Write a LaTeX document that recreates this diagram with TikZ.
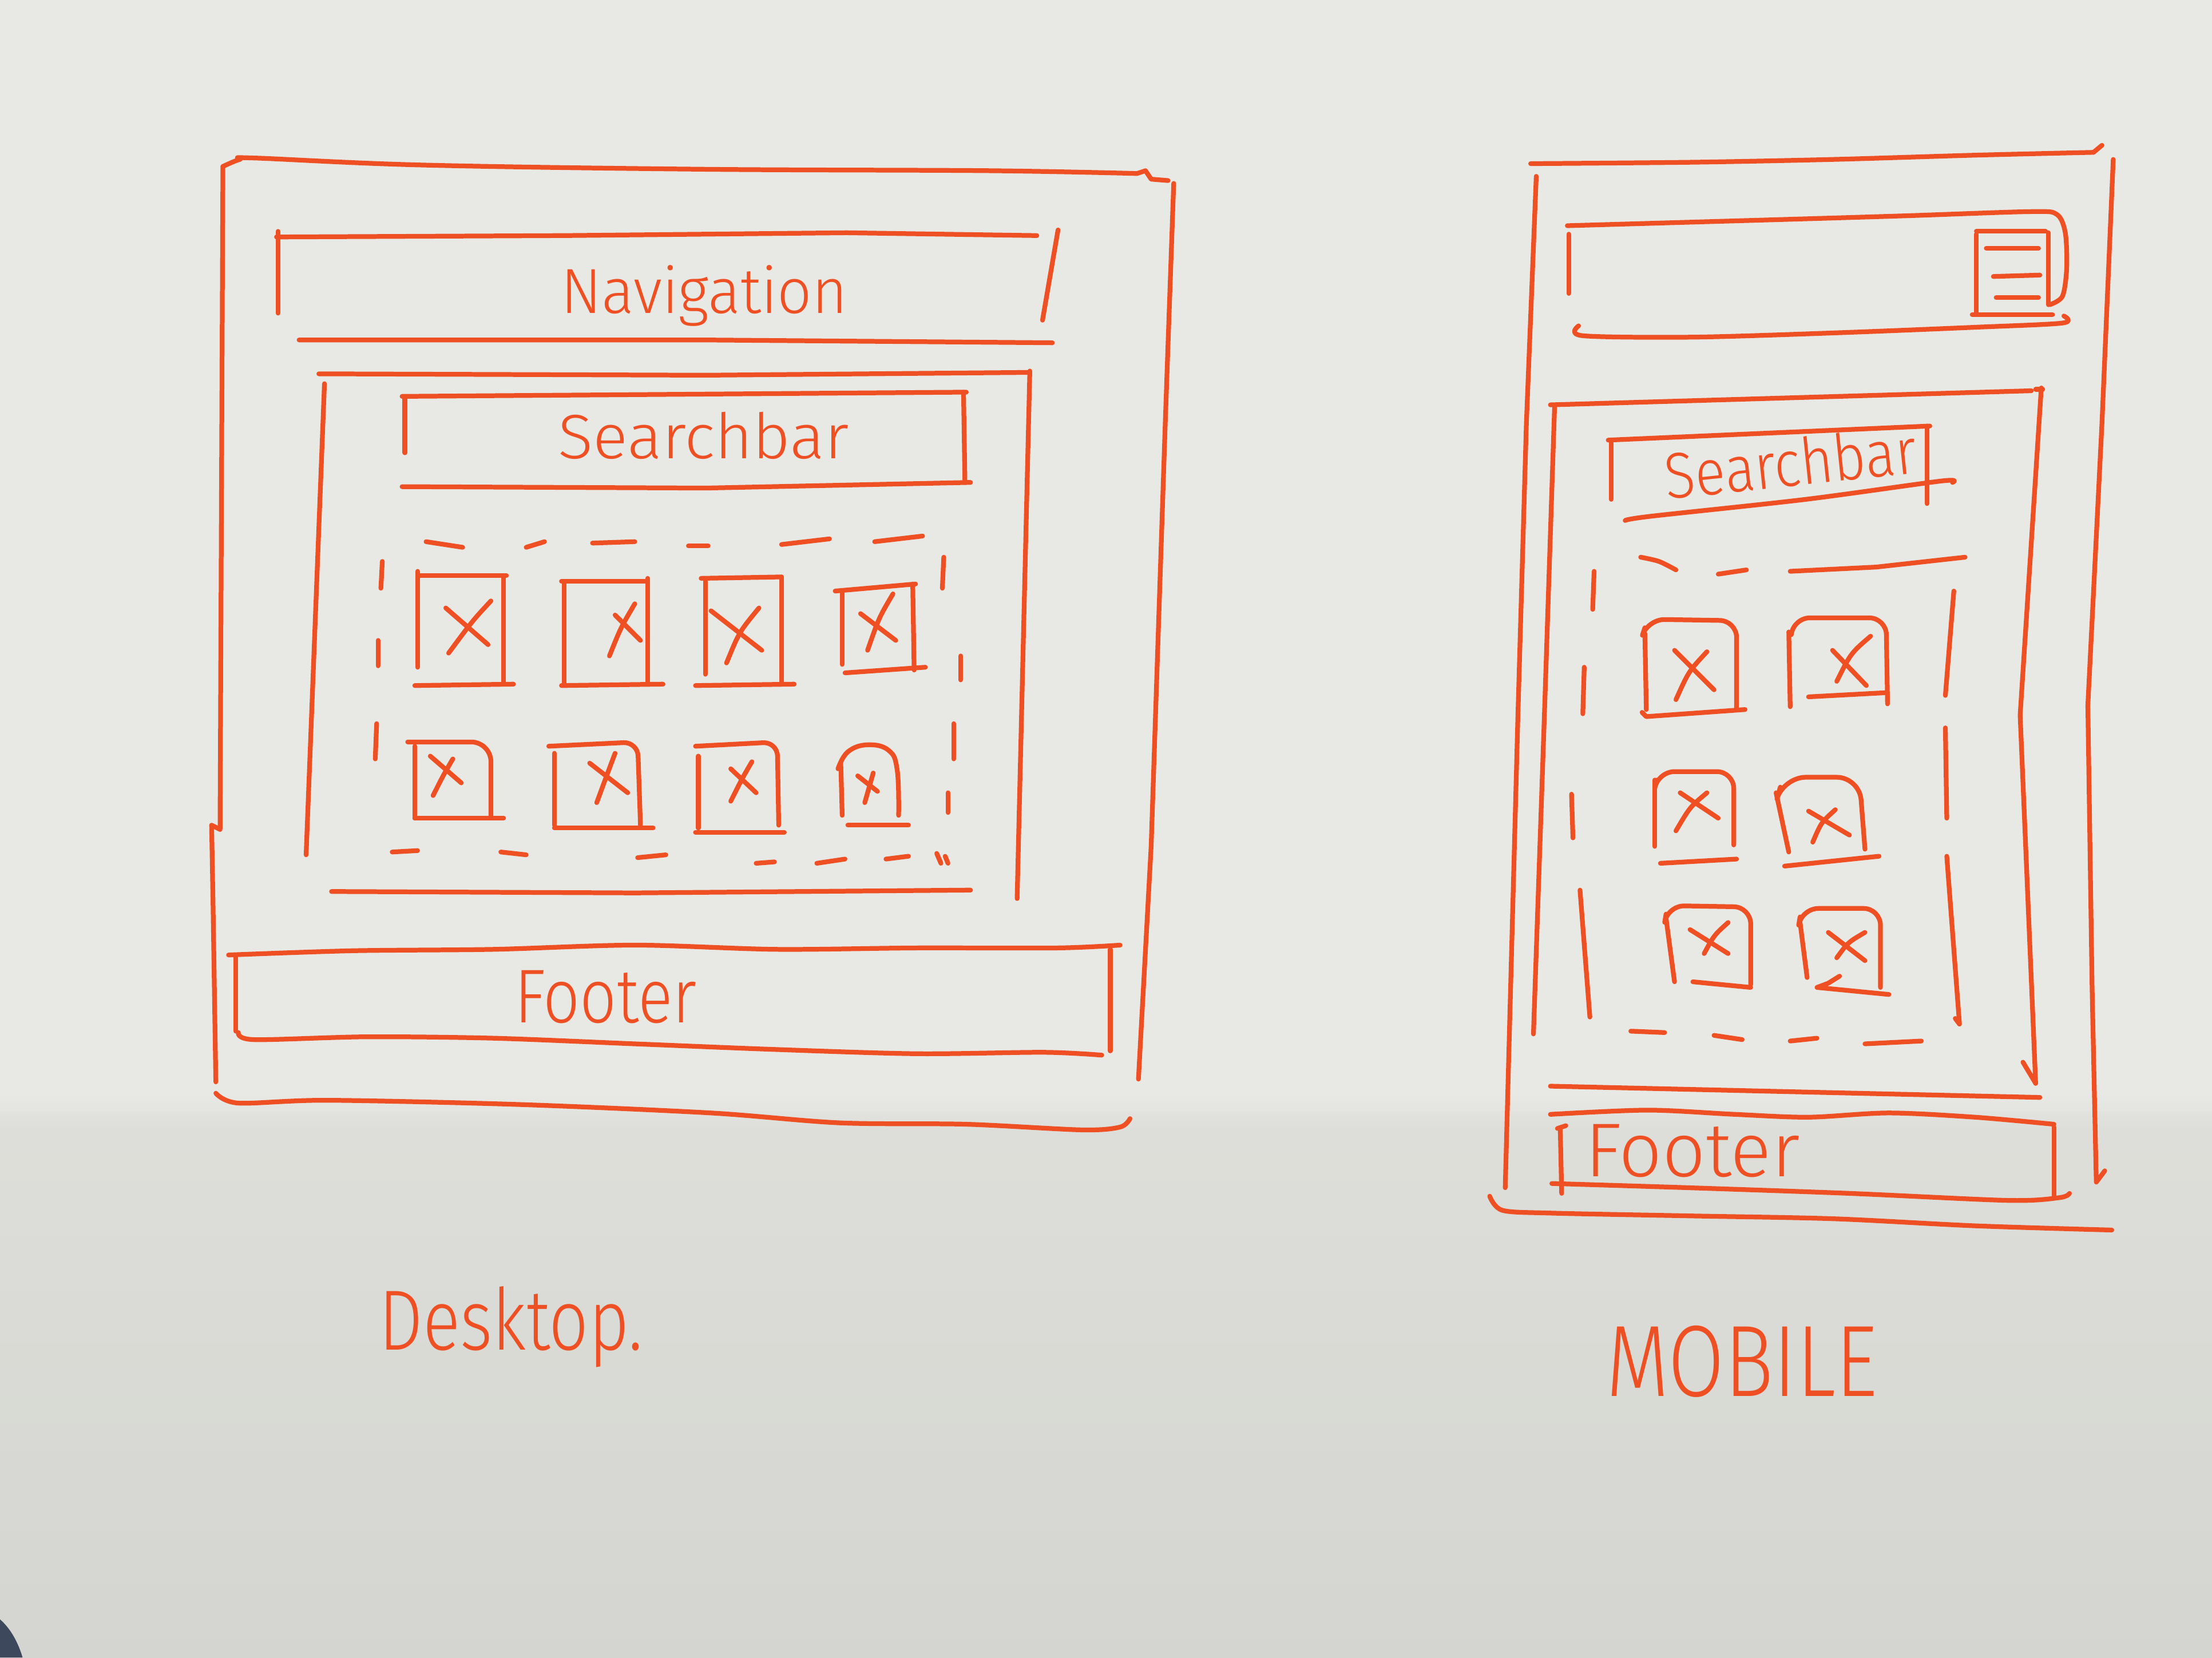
\documentclass[tikz,border=0pt]{standalone}
\usepackage{fontspec}
\usepackage{graphicx}
\newfontfamily\hand[FakeStretch=0.8,UprightFont={* Light}]{Fira Sans}
\definecolor{ink}{RGB}{238,80,36}
\definecolor{paperhi}{RGB}{232,232,228}
\definecolor{paperlo}{RGB}{221,222,217}
\definecolor{paperdeep}{RGB}{212,213,208}
\definecolor{deskedge}{RGB}{62,72,92}
\begin{document}
\begin{tikzpicture}[x=0.01cm,y=-0.01cm,
  pen/.style={draw=ink,line width=0.95pt,line cap=round,line join=round},
  handtext/.style={inner sep=0,anchor=base west,text=ink}]
\useasboundingbox (0,0) rectangle (1568,1175);
% paper, with the softer shadow over the lower part
\fill[paperhi] (0,0) rectangle (1568,800);
\foreach \i [evaluate=\i as \t using \i*10] in {0,...,10}
  \fill[paperlo!\t!paperhi] (0,{775+\i*2.5}) rectangle (1568,{778+\i*2.5});
\foreach \i [evaluate=\i as \t using \i*5] in {0,...,19}
  \fill[paperdeep!\t!paperlo] (0,{800+\i*19}) rectangle (1568,{820+\i*19});
\fill[deskedge] (0,1148) .. controls (8,1155) and (13,1165) .. (16,1175) -- (0,1175) -- cycle;

% ================= DESKTOP =================
% outer frame
\draw[pen] plot[smooth,tension=0.6] coordinates {(158,118) (170,113) (180,112) (300,117) (500,120) (700,121) (806,123)};
\draw[pen] (806,123) -- (812,121) -- (816,127) -- (828,128);
\draw[pen] (158,118) -- (157,350) -- (156,588) -- (150,585) -- (151,640) -- (153,767);
\draw[pen] plot[smooth,tension=0.5] coordinates {(153,775) (169,782) (232,780) (368,783) (504,789) (595,796) (685,797) (767,801) (794,799) (801,793)};
\draw[pen] (832,130) -- (826,300) -- (816,600) -- (807,765);

% navigation bar
\draw[pen] (196,168) -- (400,167) -- (600,165) -- (735,167);
\draw[pen] (197,164) -- (197,222);
\draw[pen] (750,163) -- (739,227);
\draw[pen] (212,241) -- (500,241) -- (746,243);
\node[handtext] (navtxt) at (397,222) {\resizebox{2.03cm}{0.34cm}{\hand Navigation}};

% content area
\draw[pen] (226,265) -- (500,266) -- (730,264);
\draw[pen] (230,272) -- (217,606);
\draw[pen] (730,263) -- (721,637);
\draw[pen] (235,632) -- (450,633) -- (688,631);

% search bar
\draw[pen] (285,281) -- (685,278);
\draw[pen] (287,283) -- (287,321);
\draw[pen] (683,278) -- (684,342);
\draw[pen] (285,345) -- (500,346) -- (688,342);
\node[handtext] (searchtxt) at (395,325) {\resizebox{2.06cm}{0.33cm}{\hand Searchbar}};

% dashed grid container
\draw[pen] (302,384) -- (328,388);
\draw[pen] (373,388) -- (386,384);
\draw[pen] (420,385) -- (450,384);
\draw[pen] (488,387) -- (502,387);
\draw[pen] (554,386) -- (588,382);
\draw[pen] (620,384) -- (654,380);
\draw[pen] (271,398) -- (270,417);
\draw[pen] (268,454) -- (268,472);
\draw[pen] (267,513) -- (266,538);
\draw[pen] (669,395) -- (668,417);
\draw[pen] (681,465) -- (681,482);
\draw[pen] (676,513) -- (676,538);
\draw[pen] (672,562) -- (672,576);
\draw[pen] (278,604) -- (296,603);
\draw[pen] (355,604) -- (373,606);
\draw[pen] (452,608) -- (472,606);
\draw[pen] (536,612) -- (549,611);
\draw[pen] (579,612) -- (599,609);
\draw[pen] (628,609) -- (644,607);
\draw[pen] (664,605) -- (667,612);
\draw[pen] (670,607) -- (672,612);

% image placeholders, row 1
\draw[pen] (296,405) -- (296,473);
\draw[pen] (298,408) -- (359,408);
\draw[pen] (357,408) -- (357,485);
\draw[pen] (294,486) -- (364,485);
\draw[pen] (316,431) -- (346,457);
\draw[pen] (348,426) .. controls (335,440) .. (318,463);

\draw[pen] (400,414) -- (400,484);
\draw[pen] (398,412) -- (459,412);
\draw[pen] (459,410) -- (459,484);
\draw[pen] (398,486) -- (470,485);
\draw[pen] (436,436) -- (454,454);
\draw[pen] (450,428) .. controls (440,445) .. (432,465);

\draw[pen] (500,412) -- (500,478);
\draw[pen] (497,410) -- (554,409);
\draw[pen] (554,409) -- (554,484);
\draw[pen] (493,486) -- (563,485);
\draw[pen] (504,433) -- (540,461);
\draw[pen] (538,431) .. controls (524,448) .. (515,470);

\draw[pen] (597,419) -- (597,471);
\draw[pen] (592,419) -- (649,414);
\draw[pen] (647,414) -- (648,475);
\draw[pen] (599,477) -- (656,473);
\draw[pen] (610,435) -- (635,454);
\draw[pen] (633,421) .. controls (623,438) .. (615,461);

% image placeholders, row 2
\draw[pen] (294,529) -- (294,580);
\draw[pen,rounded corners=0.14cm] (289,526) -- (348,526) -- (348,580);
\draw[pen] (294,580) -- (357,580);
\draw[pen] (305,536) -- (327,555);
\draw[pen] (321,538) .. controls (314,550) .. (307,564);

\draw[pen] (393,534) -- (393,585);
\draw[pen,rounded corners=0.1cm] (389,529) -- (452,526) -- (454,585);
\draw[pen] (393,587) -- (463,587);
\draw[pen] (418,541) -- (445,562);
\draw[pen] (436,534) .. controls (430,550) .. (423,569);

\draw[pen] (495,536) -- (495,587);
\draw[pen,rounded corners=0.1cm] (493,529) -- (551,526) -- (552,585);
\draw[pen] (493,590) -- (556,590);
\draw[pen] (518,545) -- (536,562);
\draw[pen] (533,540) .. controls (526,552) .. (518,568);

\draw[pen] (596,541) -- (597,578);
\draw[pen] plot[smooth,tension=0.7] coordinates {(594,545) (601,533) (615,528) (630,532) (636,546) (637,578)};
\draw[pen] (601,585) -- (644,585);
\draw[pen] (608,550) -- (622,561);
\draw[pen] (619,548) -- (613,569);

% footer
\draw[pen] plot[smooth,tension=0.5] coordinates {(162,677) (250,674) (350,673) (450,670) (550,673) (650,672) (750,672) (794,670)};
\draw[pen] (167,678) -- (167,731);
\draw[pen] (787,673) -- (787,745);
\draw[pen] plot[smooth,tension=0.5] coordinates {(169,732) (180,737) (260,735) (350,736) (450,740) (550,744) (650,747) (740,746) (781,748)};
\node[handtext] (foottxt) at (364,725) {\resizebox{1.29cm}{0.37cm}{\hand Footer}};

\node[handtext] (desklabel) at (268,957) {\resizebox{1.87cm}{0.45cm}{\hand Desktop.}};

% ================= MOBILE =================
% outer frame
\draw[pen] plot[smooth,tension=0.5] coordinates {(1085,116) (1200,115) (1300,113) (1400,110) (1484,108)};
\draw[pen] (1484,108) -- (1490,103);
\draw[pen] (1089,125) -- (1082,300) -- (1076,507) -- (1067,842);
\draw[pen] plot[smooth,tension=0.5] coordinates {(1056,848) (1065,858) (1100,860) (1200,862) (1300,864) (1400,869) (1497,872)};
\draw[pen] (1498,113) -- (1490,300) -- (1480,500) -- (1483,700) -- (1486,838) -- (1492,830);

% navigation bar with menu icon
\draw[pen] plot[smooth,tension=0.5] coordinates {(1111,160) (1250,156) (1350,153) (1440,150) (1458,152) (1464,165) (1465,190) (1462,210) (1453,216)};
\draw[pen] (1112,166) -- (1112,208);
\draw[pen] plot[smooth,tension=0.5] coordinates {(1119,231) (1122,238) (1200,239) (1300,236) (1400,232) (1462,229) (1463,224)};
\draw[pen] (1401,166) -- (1401,223);
\draw[pen] (1401,164) -- (1450,164);
\draw[pen] (1452,165) -- (1452,216);
\draw[pen] (1398,223) -- (1455,223);
\draw[pen] (1408,176) -- (1445,176);
\draw[pen] (1413,196) -- (1446,195);
\draw[pen] (1415,211) -- (1445,211);

% content area
\draw[pen] (1099,287) -- (1440,277);
\draw[pen] (1443,276) -- (1448,276);
\draw[pen] (1102,288) -- (1095,500) -- (1087,733);
\draw[pen] (1447,275) -- (1432,507) -- (1443,768);
\draw[pen] (1434,753) -- (1443,768);
\draw[pen] (1099,770) -- (1446,778);

% search bar
\draw[pen] (1140,312) -- (1368,302);
\draw[pen] (1142,314) -- (1142,354);
\draw[pen] (1366,302) -- (1366,357);
\draw[pen] plot[smooth,tension=0.5] coordinates {(1152,369) (1170,366) (1280,354) (1376,341) (1384,342)};
\node[handtext,rotate=6] (msearchtxt) at (1181,354) {\resizebox{1.79cm}{0.34cm}{\hand Searchbar}};

% dashed grid container
\draw[pen] plot[smooth] coordinates {(1163,395) (1176,398) (1188,404)};
\draw[pen] (1218,407) -- (1238,404);
\draw[pen] (1269,405) -- (1330,402) -- (1393,395);
\draw[pen] (1130,405) -- (1129,432);
\draw[pen] (1123,473) -- (1122,506);
\draw[pen] (1114,563) -- (1115,594);
\draw[pen] (1120,631) -- (1127,721);
\draw[pen] (1385,419) -- (1379,493);
\draw[pen] (1379,516) -- (1380,580);
\draw[pen] (1380,607) -- (1389,726) -- (1386,722);
\draw[pen] (1156,731) -- (1180,732);
\draw[pen] (1215,734) -- (1235,737);
\draw[pen] (1269,738) -- (1288,736);
\draw[pen] (1322,740) -- (1362,738);

% image placeholders
\draw[pen] (1166,449) -- (1167,503);
\draw[pen,rounded corners=0.12cm] (1166,445) -- (1168,439) -- (1231,440) -- (1231,503);
\draw[pen] (1164,505) -- (1167,508) -- (1237,503);
\draw[pen] (1187,461) -- (1215,489);
\draw[pen] (1210,462) .. controls (1197,476) .. (1188,496);

\draw[pen] (1268,448) -- (1269,501);
\draw[pen,rounded corners=0.12cm] (1270,448) -- (1271,438) -- (1337,438) -- (1338,499);
\draw[pen] (1282,494) -- (1338,491);
\draw[pen] (1326,451) .. controls (1312,463) .. (1302,483);
\draw[pen] (1299,461) -- (1323,486);

\draw[pen] (1173,553) -- (1173,600);
\draw[pen,rounded corners=0.12cm] (1174,553) -- (1175,547) -- (1229,547) -- (1229,599);
\draw[pen] (1177,612) -- (1231,609);
\draw[pen] (1191,562) -- (1218,580);
\draw[pen] (1210,562) .. controls (1198,572) .. (1188,589);

\draw[pen] (1259,562) -- (1268,604);
\draw[pen,rounded corners=0.16cm] (1262,558) -- (1264,551) -- (1318,551) -- (1322,602);
\draw[pen] (1265,614) -- (1332,607);
\draw[pen] (1282,575) -- (1311,592);
\draw[pen] (1301,574) .. controls (1291,583) .. (1285,597);

\draw[pen] (1181,651) -- (1187,696);
\draw[pen,rounded corners=0.12cm] (1181,648) -- (1182,642) -- (1241,643) -- (1241,698);
\draw[pen] (1200,696) -- (1241,700);
\draw[pen] (1198,659) -- (1225,676);
\draw[pen] (1225,654) .. controls (1215,663) .. (1208,676);

\draw[pen] (1276,654) -- (1281,693);
\draw[pen,rounded corners=0.12cm] (1276,650) -- (1277,644) -- (1333,644) -- (1333,700);
\draw[pen] (1304,692) -- (1296,697) -- (1288,700) -- (1339,705);
\draw[pen] (1296,661) -- (1322,681);
\draw[pen] (1322,661) .. controls (1310,668) .. (1302,679);

% footer
\draw[pen] plot[smooth,tension=0.5] coordinates {(1099,790) (1168,787) (1230,790) (1282,792) (1339,789) (1400,792) (1456,797)};
\draw[pen] (1104,800) -- (1110,798);
\draw[pen] (1106,800) -- (1107,846);
\draw[pen] (1456,799) -- (1456,849);
\draw[pen] plot[smooth,tension=0.5] coordinates {(1100,839) (1197,842) (1311,846) (1424,851) (1460,849) (1467,846)};
\node[handtext] (mfoottxt) at (1123,834) {\resizebox{1.52cm}{0.37cm}{\hand Footer}};

\node[handtext] (moblabel) at (1138,990) {\resizebox{1.92cm}{0.5cm}{\hand MOBILE}};
\end{tikzpicture}
\end{document}
